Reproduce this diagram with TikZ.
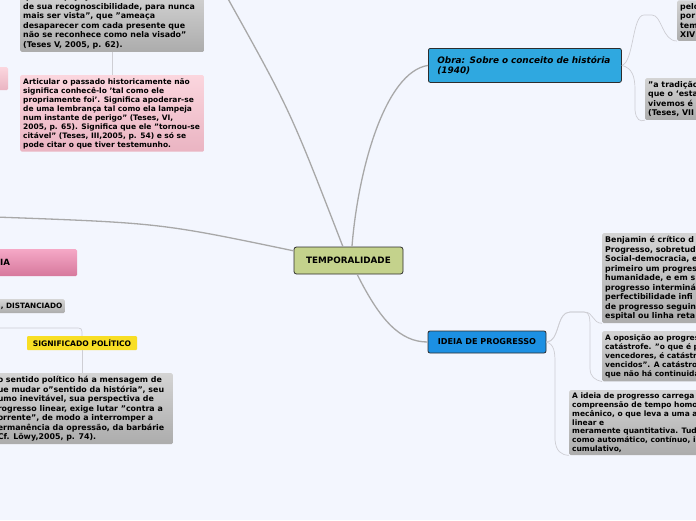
\documentclass[tikz,border=0pt]{standalone}
\usepackage{fontspec}
\setmainfont{DejaVu Sans}
\usetikzlibrary{positioning}

\definecolor{mmback}{RGB}{243,246,254}
\definecolor{mmolive}{RGB}{196,210,140}
\definecolor{mmblue}{RGB}{47,168,224}
\definecolor{mmbluedeep}{RGB}{28,144,227}
\definecolor{mmedge}{RGB}{45,45,45}
\definecolor{mmgraytop}{RGB}{212,212,212}
\definecolor{mmgraybot}{RGB}{172,172,172}
\definecolor{mmpinktop}{RGB}{251,214,222}
\definecolor{mmpinkbot}{RGB}{234,180,194}
\definecolor{mmrosetop}{RGB}{245,168,198}
\definecolor{mmrosebot}{RGB}{214,120,156}
\definecolor{mmyellow}{RGB}{248,222,36}
\definecolor{mmline}{RGB}{168,168,168}
\definecolor{mmlinelite}{RGB}{206,206,212}

\begin{document}
\begin{tikzpicture}[
   x=1pt,y=-1pt,
   mmroot/.style={draw=mmedge,line width=0.8pt,rounded corners=2.5pt,fill=mmolive,
     minimum width=109pt,minimum height=27pt,font=\fontsize{8.8}{10}\selectfont\bfseries},
   mmtopic/.style={draw=mmedge,line width=0.8pt,rounded corners=2pt,inner xsep=9pt,
     align=left,font=\fontsize{8.9}{10.5}\selectfont\bfseries\itshape},
   mmnote/.style={rounded corners=1.5pt,top color=mmgraytop,bottom color=mmgraybot,
     inner xsep=3pt,inner ysep=3pt,align=flush left,
     font=\fontsize{7.9}{9.5}\selectfont\bfseries},
   mmsmall/.style={font=\fontsize{7.5}{9.2}\selectfont\bfseries},
   mmpinknote/.style={mmnote,top color=mmpinktop,bottom color=mmpinkbot,
     font=\fontsize{7.5}{9}\selectfont\bfseries},
   mmrose/.style={rounded corners=1.5pt,top color=mmrosetop,bottom color=mmrosebot},
   mmtag/.style={rounded corners=1pt,fill=mmyellow,minimum height=14pt,inner sep=1pt,
     font=\fontsize{7.6}{9}\selectfont\bfseries},
   mmlink/.style={draw=mmline,line width=1.3pt},
   mmsublink/.style={draw=mmlinelite,line width=0.7pt}
 ]
 \fill[mmback] (0,0) rectangle (696,520);
 \useasboundingbox (0,0) rectangle (696,520);
 % central topic and main branches
 \node[mmroot] (root) at (348.5,260.5) {TEMPORALIDADE};
 \node[mmtopic,fill=mmblue,anchor=north west,minimum width=193pt,minimum height=34pt,
   text width=175pt] (obra) at (428,48) {Obra: Sobre o conceito de história\\(1940)};
 \node[mmtopic,fill=mmbluedeep,minimum width=118pt,minimum height=22pt,
   font=\fontsize{8.1}{10}\selectfont\bfseries] (ideia) at (487,342) {IDEIA DE PROGRESSO};
 % left side, upper
 \node[mmnote,anchor=south west,text width=178pt] (tlnote) at (20,52)
   {que "lampeja justamente no instante\\de sua recognoscibilidade, para nunca\\
    mais ser vista", que "ameaça\\desaparecer com cada presente que\\
    não se reconhece como nela visado"\\(Teses V, 2005, p. 62).};
 \node[mmpinknote,anchor=north west,text width=178pt] (pknote) at (20,75)
   {Articular o passado historicamente não\\significa conhecê-lo 'tal como ele\\
    propriamente foi'. Significa apoderar-se\\de uma lembrança tal como ela lampeja\\
    num instante de perigo" (Teses, VI,\\2005, p. 65). Significa que ele "tornou-se\\
    citável" (Teses, III,2005, p. 54) e só se\\pode citar o que tiver testemunho.};
 \node[mmrose,top color=mmpinktop,bottom color=mmpinkbot,anchor=north west,
   minimum width=28pt,minimum height=23pt] (pkside) at (-20,67) {};
 % left side, lower
 \node[mmrose,anchor=north west,minimum width=89pt,minimum height=27pt,inner xsep=12pt,
   text width=65pt,align=left,font=\fontsize{8.6}{10}\selectfont\bfseries] (memo) at (-12,249) {IA};
 \node[mmnote,anchor=north east,minimum height=14pt,inner ysep=1pt,inner xsep=2.5pt,
   font=\fontsize{7.3}{9}\selectfont\bfseries] (dist) at (65,299) {, DISTANCIADO};
 \node[mmtag,minimum width=110pt] (sigpol) at (82,343) {SIGNIFICADO POLÍTICO};
 \node[mmnote,anchor=north east,text width=172pt] (polnote) at (173,373)
   {o sentido político há a mensagem de\\ue mudar o"sentido da história", seu\\
    umo inevitável, sua perspectiva de\\rogresso linear, exige lutar "contra a\\
    orrente", de modo a interromper a\\ermanência da opressão, da barbárie\\
    Cf. Löwy,2005, p. 74).};
 % right side notes
 \node[mmnote,anchor=south west,text width=80pt] (trnote) at (677,41) {pelo\\por\\tem\\XIV};
 \node[mmnote,anchor=north west,text width=110pt] (trad) at (645,78)
   {"a tradição\\que o `esta\\vivemos é\\(Teses, VII};
 \node[mmnote,anchor=north west,text width=150pt] (benj) at (602,233)
   {Benjamin é crítico d\\Progresso, sobretud\\Social-democracia, e\\primeiro um progres\\
    humanidade, e em s\\progresso interminá\\perfectibilidade infi\\de progresso seguin\\
    espital ou linha reta};
 \node[mmnote,mmsmall,anchor=north west,text width=150pt] (opos) at (602,331)
   {A oposição ao progress\\catástrofe. "o que é pr\\vencedores, é catástro\\
    vencidos". A catástrofe\\que não há continuidad};
 \node[mmnote,mmsmall,font=\fontsize{7.5}{8.7}\selectfont\bfseries,anchor=north west,
   text width=180pt] (idnote) at (569,390)
   {A ideia de progresso carrega co\\compreensão de tempo homogê\\mecânico, o que leva a uma abo\\
    linear e\\meramente quantitativa. Tudo é\\como automático, contínuo, infi\\cumulativo,};
 % connectors
 \coordinate (lfar) at (-5,217);
 \coordinate (tfar) at (227,-3);
 \coordinate (pfar) at (-5,328);
 \draw[mmlink] (lfar) .. controls (160,223) .. (root.170);
 \draw[mmlink] (tfar) .. controls (290,110) .. (root.112);
 \draw[mmlink] (obra.west) .. controls (385,72) and (358,170) .. (root.76);
 \draw[mmlink] (root.-58) .. controls (380,320) and (400,342) .. (ideia.west);
 \draw[mmsublink] (obra.east) .. controls (634,62) and (632,15) .. (644,15) -- (652,15)
   .. controls (662,15) and (662,41) .. (trnote.south west);
 \draw[mmsublink] (obra.east) .. controls (632,68) and (635,76) .. (635,90) -- (635,110)
   .. controls (636,120) and (640,122) .. (trad.south west);
 \draw[mmsublink] (ideia.east) .. controls (560,342) and (556,312) .. (570,312) -- (584,312)
   .. controls (594,312) and (592,323) .. (benj.south west);
 \draw[mmsublink] (ideia.east) .. controls (560,342) and (556,312) .. (570,312) -- (584,312)
   .. controls (590,312) and (590,318) .. (590,330) -- (590,368)
   .. controls (590,377) and (595,380) .. (opos.south west);
 \draw[mmsublink] (ideia.east) .. controls (554,344) and (555,352) .. (555,362) -- (555,440)
   .. controls (556,451) and (561,455) .. (idnote.south west);
 \draw[mmsublink] (tlnote.south) -- (pknote.north);
 \draw[mmsublink] (pfar) -- (75,328) .. controls (82,328) .. (sigpol.north);
 \draw[mmsublink] (sigpol.south) -- (sigpol.south |- polnote.north);
\end{tikzpicture}
\end{document}
